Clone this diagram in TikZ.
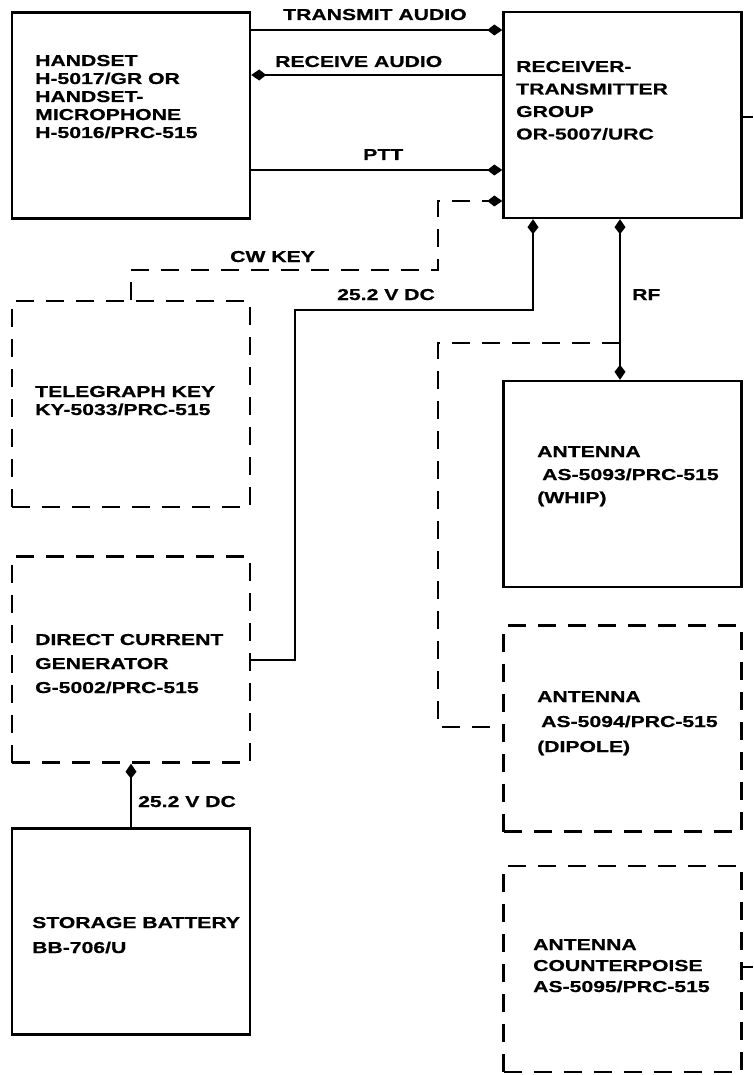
\documentclass[tikz,border=0pt]{standalone}
\usepackage{fontspec}
\newfontfamily\lbl{Liberation Sans}[FakeStretch=1.34, BoldFeatures={FakeBold=0.7}]
\usetikzlibrary{arrows.meta}
\newcommand\blkt[2]{\parbox[t]{215pt}{\fontsize{15.8}{#1}\selectfont\raggedright #2}}
\begin{document}
\begin{tikzpicture}[x=1pt,y=-1pt,
  box/.style={draw, line width=2.4pt, minimum width=238pt, minimum height=206pt, inner sep=0pt},
  dbox/.style={box, dash pattern=on 18pt off 12pt},
  conn/.style={line width=2.4pt},
  dconn/.style={line width=2.4pt, dash pattern=on 18pt off 12pt},
  tip/.style={-{Kite[length=15pt,width=11pt,inset=7pt]}},
  bitip/.style={{Kite[length=15pt,width=11pt,inset=7pt]}-{Kite[length=15pt,width=11pt,inset=7pt]}},
  txt/.style={inner sep=0pt, anchor=base west, font=\lbl\bfseries\fontsize{15.8}{18}\selectfont}]
\useasboundingbox (0,0) rectangle (753,1075);
\fill[white] (0,0) rectangle (753,1075);

% boxes
\node[box]  (hs) at (131,115.5) {};
\node[box]  (rt) at (622.5,115) {};
\node[dbox] (tk) at (131,404) {};
\node[dbox] (dg) at (131,659.5) {};
\node[box]  (bt) at (131,931.5) {};
\node[box]  (wh) at (622.5,484) {};
\node[dbox] (dp) at (622.5,728.5) {};
\node[dbox] (cp) at (622.5,969) {};

% box texts
\node[txt] (hst) at (35,66) {\blkt{18}{HANDSET\\H-5017/GR OR\\HANDSET-\\MICROPHONE\\H-5016/PRC-515}};
\node[txt] (rtt) at (516,72) {\blkt{22.5}{RECEIVER-\\TRANSMITTER\\GROUP\\OR-5007/URC}};
\node[txt] (tkt) at (35,397) {\blkt{18}{TELEGRAPH KEY\\KY-5033/PRC-515}};
\node[txt] (dgt) at (35,645) {\blkt{24}{DIRECT CURRENT\\GENERATOR\\G-5002/PRC-515}};
\node[txt] (btt) at (32,928) {\blkt{25}{STORAGE BATTERY\\BB-706/U}};
\node[txt] (wht) at (537,457) {\blkt{23}{ANTENNA\\\hspace*{5pt}AS-5093/PRC-515\\(WHIP)}};
\node[txt] (dpt) at (537,702) {\blkt{25}{ANTENNA\\\hspace*{4pt}AS-5094/PRC-515\\(DIPOLE)}};
\node[txt] (cpt) at (533,950) {\blkt{21}{ANTENNA\\COUNTERPOISE\\AS-5095/PRC-515}};

% connector labels
\node[txt] (lta) at (283,20) {TRANSMIT AUDIO};
\node[txt] (lra) at (275,67) {RECEIVE AUDIO};
\node[txt] (lptt) at (363,160) {PTT};
\node[txt] (lcw) at (230,262) {CW KEY};
\node[txt] (ldc1) at (337,300) {25.2 V DC};
\node[txt] (lrf) at (632,300) {RF};
\node[txt] (ldc2) at (138,807) {25.2 V DC};

% connectors
\draw[conn,tip] (hs.east |- 0,30) -- (rt.west |- 0,30);
\draw[conn,tip] (rt.west |- 0,75) -- (hs.east |- 0,75);
\draw[conn,tip] (hs.east |- 0,170) -- (rt.west |- 0,170);
\draw[dconn,tip] (tk.north) |- (438,270) |- (rt.west |- 0,201);
\draw[conn,tip] (dg.east |- 0,660) -| (295,310) -| (rt.south -| 533,0);
\draw[conn,bitip] (rt.south -| 620,0) -- (wh.north -| 620,0);
\coordinate (rfj) at (620,343);
\draw[dconn] (rfj) -| (438,727) -- (dp.west |- 0,727);
\draw[conn,tip] (bt.north) -- (dg.south);
\coordinate (out1) at (753,117);
\coordinate (out2) at (753,967);
\draw[conn] (rt.east |- out1) -- (out1);
\draw[conn] (cp.east |- out2) -- (out2);
\end{tikzpicture}
\end{document}
